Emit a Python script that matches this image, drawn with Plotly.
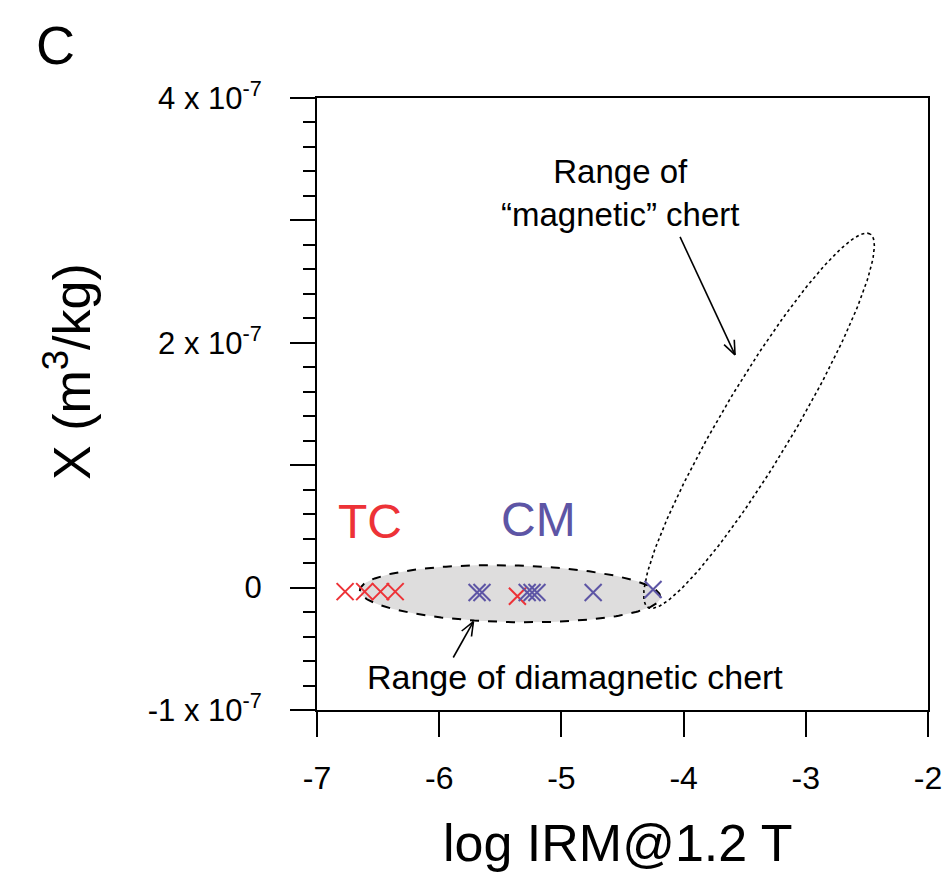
import numpy as np
import plotly.graph_objects as go

# ---- data ----
tc_x = [-6.77, -6.61, -6.48, -6.36, -5.36]
tc_y = [-0.033e-7, -0.033e-7, -0.033e-7, -0.033e-7, -0.07e-7]
cm_x = [-5.69, -5.65, -5.28, -5.24, -5.20, -4.74, -4.25]
cm_y = [-0.04e-7, -0.04e-7, -0.04e-7, -0.04e-7, -0.04e-7, -0.04e-7, -0.015e-7]

x_ticks = [-7, -6, -5, -4, -3, -2]
y_ticks = [-1e-7, 0, 1e-7, 2e-7, 3e-7, 4e-7]
y_ticktext = ["-1 x 10<sup>-7</sup>", "0", "", "2 x 10<sup>-7</sup>", "",
              "4 x 10<sup>-7</sup>"]
y_minor = [v * 1e-9 for v in range(-100, 401, 20)]

# ellipse ranges: (centre x, centre y [1e-7], semi-axis a, semi-axis b [scaled], angle deg)
dia_range = (-5.42, -0.05, 1.23, 0.232, -1.3)
mag_range = (-3.383, 1.363, 1.776, 0.295, 59.2)

RED = "#ED3237"
BLUE = "#5D55A5"
FONT = "Liberation Sans, Arial, Helvetica, sans-serif"

# plot-area geometry (page is offset by the 8px body margin)
W, H = 935, 866
ML, MR, MT, MB = 309, 15, 90, 164
PW, PH = W - ML - MR, H - MT - MB
PX_X = PW / 5.0        # px per x unit
PX_Y = PH / 5.0        # px per 1e-7


def ellipse(cx, cy, a, b, ang):
    t = np.linspace(0, 2 * np.pi, 241)
    th = np.deg2rad(ang)
    ex = a * np.cos(t)
    ey = b * np.sin(t)
    xs = cx + ex * np.cos(th) - ey * np.sin(th)
    ys = cy + ex * np.sin(th) + ey * np.cos(th)
    return xs, ys * 1e-7


def arrow(x0, y0, x1, y1, head=15, spread=22):
    """open-V arrow from (x0,y0) to (x1,y1); y in units of 1e-7"""
    dxp = (x1 - x0) * PX_X
    dyp = (y1 - y0) * PX_Y
    ang = np.arctan2(dyp, dxp)
    xs = [x0, x1, None]
    ys = [y0, y1, None]
    for s in (+1, -1):
        a = ang + np.pi + s * np.deg2rad(spread)
        xs += [x1 + head * np.cos(a) / PX_X, x1, None]
        ys += [y1 + head * np.sin(a) / PX_Y, y1, None]
    return xs, [None if v is None else v * 1e-7 for v in ys]


fig = go.Figure()

dx, dy = ellipse(*dia_range)
fig.add_trace(go.Scatter(x=dx, y=dy, mode="lines", fill="toself",
                         fillcolor="#DEDDDD",
                         line=dict(color="black", width=2, dash="dash"),
                         hoverinfo="skip", showlegend=False))
mx, my = ellipse(*mag_range)
fig.add_trace(go.Scatter(x=mx, y=my, mode="lines",
                         line=dict(color="black", width=1.6, dash="dot"),
                         hoverinfo="skip", showlegend=False))

for (x0, y0, x1, y1) in [(-4.029, 2.865, -3.579, 1.902), (-5.885, -0.571, -5.72, -0.278)]:
    ax_, ay_ = arrow(x0, y0, x1, y1)
    fig.add_trace(go.Scatter(x=ax_, y=ay_, mode="lines", line=dict(color="black", width=1.6),
                             hoverinfo="skip", showlegend=False))

fig.add_trace(go.Scatter(x=tc_x, y=tc_y, mode="markers", name="TC",
                         marker=dict(symbol="x-thin", size=17,
                                     line=dict(color=RED, width=2)),
                         showlegend=False))
fig.add_trace(go.Scatter(x=cm_x, y=cm_y, mode="markers", name="CM",
                         marker=dict(symbol="x-thin", size=17,
                                     line=dict(color=BLUE, width=2)),
                         showlegend=False))

fig.update_xaxes(range=[-7, -2], tickvals=x_ticks, ticktext=[str(v) for v in x_ticks],
                 ticks="outside", ticklen=25, tickwidth=2, tickcolor="black",
                 showline=True, linewidth=2, linecolor="black", mirror=True,
                 showgrid=False, zeroline=False, ticklabelstandoff=14,
                 tickfont=dict(size=32, color="black", family=FONT))
fig.update_yaxes(range=[-1e-7, 4e-7], tickvals=y_ticks, ticktext=y_ticktext,
                 ticks="outside", ticklen=25, tickwidth=2, tickcolor="black",
                 minor=dict(tickvals=y_minor, ticks="outside", ticklen=12,
                            tickwidth=1.5, tickcolor="black", showgrid=False),
                 showline=True, linewidth=2, linecolor="black", mirror=True,
                 showgrid=False, zeroline=False, ticklabelstandoff=22,
                 tickfont=dict(size=31, color="black", family=FONT))


def px2paper(px, py):
    # page pixel -> paper coords of the plot area
    return (px - 8 - ML) / PW, (H - MB - (py - 8)) / PH


ann = []
ann.append(dict(x=-4.52, y=3.22e-7, xref="x", yref="y", showarrow=False,
                text="Range of<br>\u201cmagnetic\u201d chert", align="center",
                xanchor="center", yanchor="middle",
                font=dict(size=33, color="black", family=FONT)))
ann.append(dict(x=-4.889, y=-0.727e-7, xref="x", yref="y", showarrow=False,
                text="Range of diamagnetic chert", xanchor="center", yanchor="middle",
                font=dict(size=34, color="black", family=FONT)))
ann.append(dict(x=-6.566, y=0.54e-7, xref="x", yref="y", showarrow=False,
                text="TC", xanchor="center", yanchor="middle",
                font=dict(size=48, color=RED, family=FONT)))
ann.append(dict(x=-5.191, y=0.555e-7, xref="x", yref="y", showarrow=False,
                text="CM", xanchor="center", yanchor="middle",
                font=dict(size=48, color=BLUE, family=FONT)))
cx_, cy_ = px2paper(55, 45)
ann.append(dict(x=cx_, y=cy_, xref="paper", yref="paper", showarrow=False,
                xanchor="center", yanchor="middle",
                text="C", font=dict(size=54, color="black", family=FONT)))
tx_, ty_ = px2paper(618, 843)
ann.append(dict(x=tx_, y=ty_, xref="paper", yref="paper", xanchor="center", yanchor="middle",
                showarrow=False, text="log IRM@1.2 T",
                font=dict(size=52, color="black", family=FONT)))
yx_, yy_ = px2paper(68, 372)
ann.append(dict(x=yx_, y=yy_, xref="paper", yref="paper", xanchor="center", yanchor="middle",
                showarrow=False, text="X (m<sup>3</sup>/kg)", textangle=-90,
                font=dict(size=52, color="black", family=FONT)))

fig.update_layout(width=W, height=H,
                  margin=dict(l=ML, r=MR, t=MT, b=MB, autoexpand=False),
                  paper_bgcolor="white", plot_bgcolor="white",
                  annotations=ann, showlegend=False)

fig.write_html("out.html")
